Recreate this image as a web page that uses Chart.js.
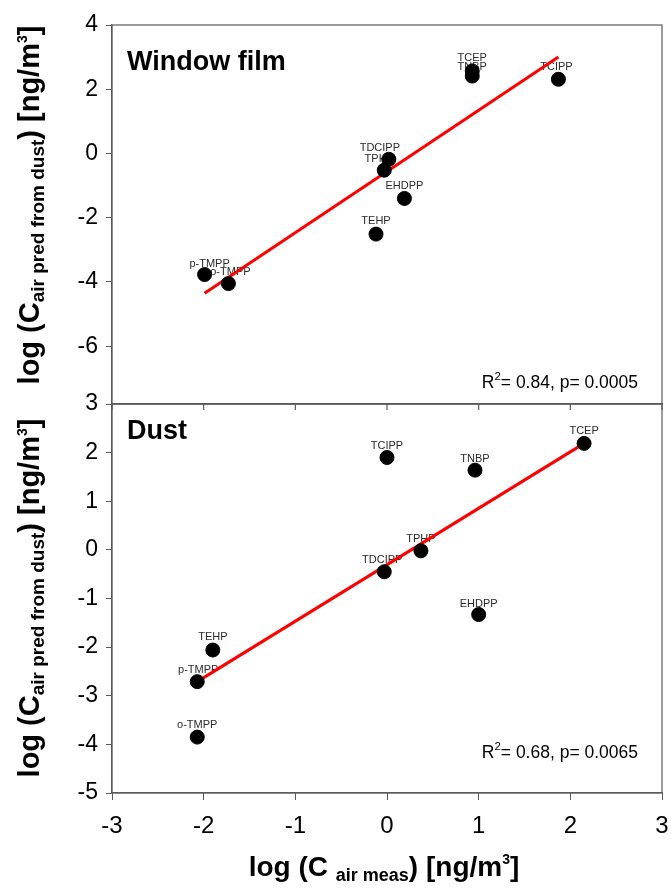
<!DOCTYPE html>
<html><head><meta charset="utf-8">
<script src="https://cdn.jsdelivr.net/npm/chart.js@4"></script>
<style>
body{margin:0;background:#fff;width:671px;height:890px;position:relative;overflow:hidden;font-family:"Liberation Sans",Arial,sans-serif}
canvas{position:absolute;left:0;top:0}
.yt{position:absolute;font-weight:bold;font-size:29px;white-space:nowrap;transform:translate(-50%,-50%) rotate(-90deg);color:#000;line-height:1}
.yt sub{font-size:19px;vertical-align:-5px}
.yt sup{font-size:14px;vertical-align:12px}
.xt{font-size:28px}
.xt sub{font-size:18px}
</style></head>
<body>
<canvas id="c1" width="671" height="420"></canvas>
<canvas id="c2" width="671" height="890"></canvas>
<div class="yt" style="left:31px;top:205px">log (C<sub>air pred from dust</sub>) [ng/m<sup>3</sup>]</div>
<div class="yt" style="left:31px;top:598px">log (C<sub>air pred from dust</sub>) [ng/m<sup>3</sup>]</div>
<div class="yt xt" style="left:384px;top:868px;transform:translate(-50%,-50%)">log (C <sub>air meas</sub>) [ng/m<sup>3</sup>]</div>
<script>
const compounds = ['TCEP','TNBP','TCIPP','TDCIPP','TPHP','EHDPP','TEHP','p-TMPP','o-TMPP'];
const filmX = [0.93, 0.93, 1.87, 0.02, -0.03, 0.19, -0.12, -1.99, -1.73];
const filmY = [2.57, 2.41, 2.31, -0.18, -0.52, -1.40, -2.51, -3.77, -4.05];
const dustX = [2.15, 0.96, 0.00, -0.03, 0.37, 1.00, -1.90, -2.07, -2.07];
const dustY = [2.19, 1.64, 1.90, -0.45, -0.02, -1.33, -2.06, -2.71, -3.85];
const filmFitX = [-1.99, 1.87];
const filmFitY = [-4.35, 3.0];
const dustFitX = [-2.07, 2.15];
const dustFitY = [-2.71, 2.19];
const xTicks = [-3, -2, -1, 0, 1, 2, 3];
const filmYTicks = [4, 2, 0, -2, -4, -6];
const dustYTicks = [3, 2, 1, 0, -1, -2, -3, -4, -5];
const panelTitles = ['Window film', 'Dust'];
const statsText = [['0.84', '0.0005'], ['0.68', '0.0065']];

const FONT = '"Liberation Sans", Arial, sans-serif';
const zip = (xs, ys) => xs.map((x, i) => ({x, y: ys[i]}));

function annot(panel, labelOffsets) {
  return {
    id: 'annot' + panel,
    beforeDatasetsDraw(chart) {
      const ctx = chart.ctx;
      const meta = chart.getDatasetMeta(1);
      ctx.save();
      ctx.font = '11px ' + FONT; ctx.fillStyle = '#2a2a2a';
      ctx.textAlign = 'center'; ctx.textBaseline = 'middle';
      meta.data.forEach((pt, i) => {
        const o = labelOffsets[i] || [0, 0];
        ctx.fillText(compounds[i], pt.x + o[0], pt.y - 12 + o[1]);
      });
      ctx.restore();
    },
    afterDatasetsDraw(chart) {
      const ctx = chart.ctx, a = chart.chartArea;
      ctx.save();
      ctx.strokeStyle = '#5a5a5a'; ctx.lineWidth = 1.2;
      ctx.strokeRect(a.left, a.top, a.right - a.left, a.bottom - a.top);
      if (panel === 1) {
        const xs = chart.scales.x;
        xTicks.forEach(v => {
          const px = xs.getPixelForValue(v);
          ctx.beginPath(); ctx.moveTo(px, a.top); ctx.lineTo(px, a.top + 6); ctx.stroke();
        });
      }
      ctx.font = 'bold 27px ' + FONT; ctx.fillStyle = '#000';
      ctx.textAlign = 'left'; ctx.textBaseline = 'middle';
      ctx.fillText(panelTitles[panel], a.left + 15, a.top + (panel === 0 ? 38 : 28));
      const big = '17.5px ' + FONT, small = '11.5px ' + FONT;
      ctx.textBaseline = 'alphabetic';
      const s = statsText[panel];
      const rest = '= ' + s[0] + ', p= ' + s[1];
      ctx.font = big; const wR = ctx.measureText('R').width; const wRest = ctx.measureText(rest).width;
      ctx.font = small; const w2 = ctx.measureText('2').width;
      const right = a.right - 24, base = a.bottom - (panel === 0 ? 16 : 35);
      const x0 = right - wR - w2 - wRest;
      ctx.font = big; ctx.fillText('R', x0, base);
      ctx.font = small; ctx.fillText('2', x0 + wR, base - 8);
      ctx.font = big; ctx.fillText(rest, x0 + wR + w2, base);
      ctx.restore();
    }
  };
}

function makeChart(id, panel, xs, ys, fx, fy, yMin, yMax, yTicks, padTop, xHeight, labelOffsets) {
  return new Chart(document.getElementById(id), {
    type: 'scatter',
    data: {
      datasets: [
        {type: 'line', data: zip(fx, fy), borderColor: '#ff0000', borderWidth: 3, pointRadius: 0, fill: false, order: 2},
        {data: zip(xs, ys), backgroundColor: '#000', borderColor: '#000', pointRadius: 7, pointHoverRadius: 7, order: 1}
      ]
    },
    options: {
      responsive: false, animation: false, events: [],
      layout: {padding: {top: padTop, right: 9, left: 0, bottom: 0}},
      plugins: {legend: {display: false}, tooltip: {enabled: false}},
      scales: {
        x: {
          type: 'linear', min: -3, max: 3,
          afterBuildTicks: s => { s.ticks = xTicks.map(v => ({value: v})); },
          afterFit: s => { s.height = xHeight; s.paddingLeft = 0; s.paddingRight = 0; },
          border: {display: true, color: '#5a5a5a', width: 1.2},
          grid: {drawOnChartArea: false, drawTicks: panel === 1, tickLength: 7, color: '#5a5a5a'},
          ticks: {display: panel === 1, color: '#000', font: {size: 24, family: FONT}, padding: 12, maxRotation: 0}
        },
        y: {
          type: 'linear', min: yMin, max: yMax,
          afterBuildTicks: s => { s.ticks = yTicks.map(v => ({value: v})); },
          afterFit: s => { s.width = 112; s.paddingTop = 0; s.paddingBottom = 0; },
          border: {display: true, color: '#5a5a5a', width: 1.2},
          grid: {drawOnChartArea: false, drawTicks: true, tickLength: 6, color: '#5a5a5a'},
          ticks: {color: '#000', font: {size: 23, family: FONT}, padding: 8}
        }
      }
    },
    plugins: [annot(panel, labelOffsets)]
  });
}

const filmOffsets = [[0, -1], [0, 3], [-2, 0], [-9, 1], [-5, 1], [0, 0], [0, -1], [5, 1], [2, 0]];
const dustOffsets = [[0, 0], [0, 1], [0, 0], [-2, 0], [0, 0], [0, 1], [0, -1], [1, 0], [0, 0]];

makeChart('c1', 0, filmX, filmY, filmFitX, filmFitY, -7.8, 4, filmYTicks, 25, 16, filmOffsets);
makeChart('c2', 1, dustX, dustY, dustFitX, dustFitY, -5, 3, dustYTicks, 404, 97, dustOffsets);
</script>
</body></html>
